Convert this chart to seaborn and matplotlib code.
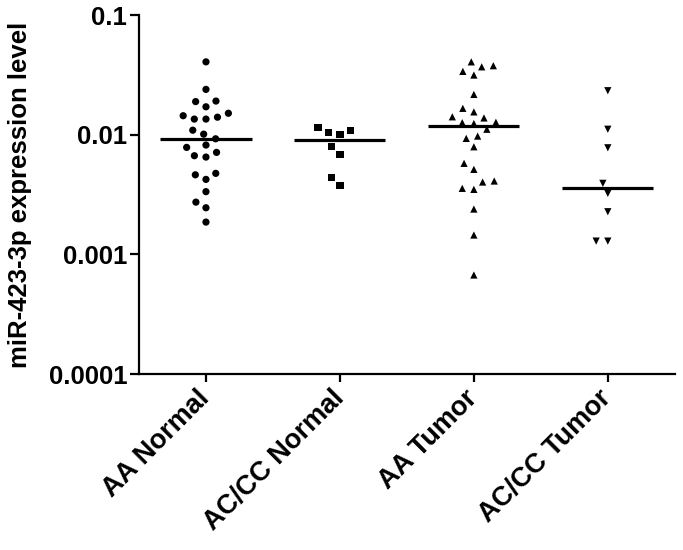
import numpy as np
import pandas as pd
import matplotlib
matplotlib.use("Agg")
import matplotlib.pyplot as plt
import seaborn as sns

groups = ["AA Normal", "AC/CC Normal", "AA Tumor", "AC/CC Tumor"]
markers = ["o", "s", "^", "v"]

aa_normal = [0.0406, 0.0239, 0.0191, 0.0189, 0.0171, 0.0151, 0.0144, 0.0135,
             0.0135, 0.0140, 0.0109, 0.0101, 0.00924, 0.00819, 0.00783, 0.00711,
             0.0065, 0.00667, 0.00462, 0.00475, 0.00423, 0.00334, 0.00273,
             0.00245, 0.00186]
acc_normal = [0.0115, 0.0109, 0.0104, 0.0101, 0.00792, 0.00679, 0.00437, 0.00377]
aa_tumor = [0.0406, 0.0377, 0.0369, 0.0338, 0.0315, 0.0217, 0.0166, 0.0155,
            0.0141, 0.0138, 0.0126, 0.0124, 0.0127, 0.0111, 0.00931, 0.00973,
            0.00792, 0.00576, 0.00513, 0.0041, 0.00402, 0.00356, 0.00349,
            0.00239, 0.00145, 0.000672]
acc_tumor = [0.0233, 0.0111, 0.00777, 0.00392, 0.00323, 0.00227, 0.00129, 0.00129]

yticks = [0.0001, 0.001, 0.01, 0.1]
ytick_labels = ["0.0001", "0.001", "0.01", "0.1"]

df = pd.DataFrame({
    "group": sum([[g] * len(v) for g, v in
                  zip(groups, [aa_normal, acc_normal, aa_tumor, acc_tumor])], []),
    "value": aa_normal + acc_normal + aa_tumor + acc_tumor,
})

sns.set_style("ticks", {"text.color": "black", "axes.labelcolor": "black",
                        "xtick.color": "black", "ytick.color": "black",
                        "axes.edgecolor": "black"})
plt.rcParams["font.family"] = ["Liberation Sans", "DejaVu Sans"]
plt.rcParams["font.weight"] = "bold"

fig = plt.figure(figsize=(6.83, 5.5), dpi=100)
ax = fig.add_axes([0.2035, 0.32, 0.7845, 0.6527])

for g, m in zip(groups, markers):
    sns.swarmplot(data=df[df["group"] == g], x="group", y="value", order=groups,
                  marker=m, color="black", size=5.2, linewidth=2.8, ax=ax, zorder=3)
# the wide linewidth only spaces the swarm out; do not draw the edge
for coll in ax.collections:
    coll.set_edgecolor("none")

# median bars
meds = df.groupby("group")["value"].median().reindex(groups)
for i, med in enumerate(meds):
    ax.hlines(med, i - 0.34, i + 0.34, color="black", lw=2.3, zorder=2)

ax.set_yscale("log")
ax.set_ylim(0.0001, 0.1)
ax.set_xlim(-0.5, 3.5)
ax.set_yticks(yticks)
ax.set_yticklabels(ytick_labels)
ax.yaxis.set_minor_locator(matplotlib.ticker.NullLocator())
ax.set_xticks(range(len(groups)))
ax.set_xticklabels(groups, rotation=45, ha="right", va="center",
                   rotation_mode="anchor", fontsize=19.5, fontweight="bold")
ax.tick_params(axis="both", colors="black")
ax.tick_params(axis="y", labelsize=18.5, width=1.6, length=6.5, pad=2)
ax.tick_params(axis="x", width=1.6, length=6, pad=9)
ax.set_xlabel("")
ax.set_ylabel("miR-423-3p expression level", fontsize=18.5, fontweight="bold",
              labelpad=12, color="black")
for s in ["left", "bottom"]:
    ax.spines[s].set_linewidth(1.6)
    ax.spines[s].set_color("black")
sns.despine(ax=ax)

fig.savefig("out.png", dpi=100)
